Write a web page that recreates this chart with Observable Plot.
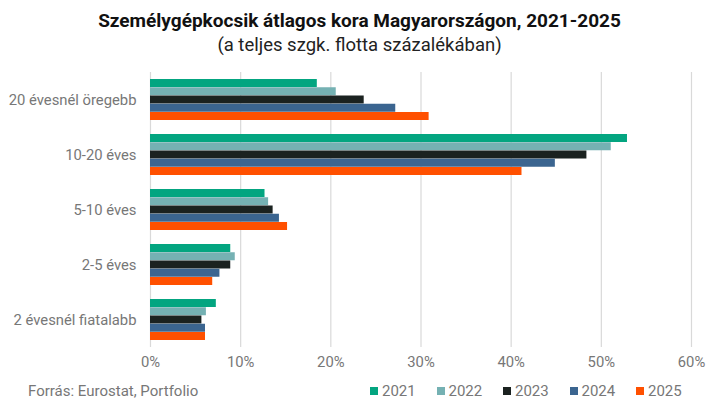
<!DOCTYPE html>
<html>
<head>
<meta charset="utf-8">
<script src="https://cdn.jsdelivr.net/npm/d3@7"></script>
<script src="https://cdn.jsdelivr.net/npm/@observablehq/plot@0.6"></script>
<style>
  html, body { margin: 0; padding: 0; background: #fff; width: 719px; height: 415px; overflow: hidden; font-family: Roboto, "Noto Sans", sans-serif; }
  #title { position: absolute; left: 0; width: 719px; top: 9px; text-align: center; font-weight: 700; font-size: 19px; color: #111; letter-spacing: 0px; line-height: 24px; }
  #subtitle { position: absolute; left: 0; width: 719px; top: 34px; text-align: center; font-size: 18.5px; color: #222; line-height: 22px; }
  #chart { position: absolute; left: 0; top: 60px; }
  #source { position: absolute; left: 28px; top: 382px; font-size: 15px; color: #777; }
  #legend { position: absolute; left: 370px; top: 382px; font-size: 15px; color: #777; display: flex; }
  .item { display: flex; align-items: center; width: 66.5px; }
  .sw { width: 8px; height: 8px; margin-right: 4px; }
</style>
</head>
<body>
<div id="title">Személygépkocsik átlagos kora Magyarországon, 2021-2025</div>
<div id="subtitle">(a teljes szgk. flotta százalékában)</div>
<div id="chart"></div>
<div id="source">Forrás: Eurostat, Portfolio</div>
<div id="legend"></div>
<script>
const categories = ["20 évesnél öregebb", "10-20 éves", "5-10 éves", "2-5 éves", "2 évesnél fiatalabb"];
const years = ["2021", "2022", "2023", "2024", "2025"];
const colors = ["#03a580", "#75b1b3", "#1b2220", "#3b6590", "#ff5000"];
const v2021 = [18.5, 52.9, 12.7, 8.9, 7.3];
const v2022 = [20.6, 51.1, 13.1, 9.4, 6.2];
const v2023 = [23.7, 48.4, 13.6, 8.9, 5.7];
const v2024 = [27.2, 44.9, 14.3, 7.7, 6.1];
const v2025 = [30.9, 41.2, 15.2, 6.9, 6.1];
const xTicks = [0, 10, 20, 30, 40, 50, 60];

const series = [v2021, v2022, v2023, v2024, v2025];
const rows = [];
years.forEach((yr, i) => categories.forEach((c, j) => rows.push({category: c, year: yr, value: series[i][j]})));

const bandStep = 55, bandWidth = bandStep * 0.75, barH = bandWidth / years.length;
const marks = [
  Plot.ruleX(xTicks, {stroke: "#d9d9d9", strokeWidth: 1.2})
];
years.forEach((yr, i) => {
  marks.push(Plot.barX(rows.filter(d => d.year === yr), {
    x: "value", y: "category", fill: colors[i],
    insetTop: i * barH, insetBottom: (years.length - 1 - i) * barH
  }));
});

const chart = Plot.plot({
  width: 719,
  height: 315,
  marginLeft: 150,
  marginRight: 28,
  marginTop: 12,
  marginBottom: 28,
  style: {fontFamily: "Roboto, sans-serif", fontSize: "14.8px", color: "#777", background: "transparent"},
  x: {domain: [0, 60], ticks: xTicks, tickFormat: d => d + "%", tickSize: 0, tickPadding: 9, label: null},
  y: {domain: categories, paddingInner: 0.25, paddingOuter: 0.125, tickSize: 0, tickPadding: 14, label: null},
  marks
});
document.getElementById("chart").appendChild(chart);

const legend = document.getElementById("legend");
years.forEach((yr, i) => {
  const it = document.createElement("div");
  it.className = "item";
  it.innerHTML = `<span class="sw" style="background:${colors[i]}"></span><span>${yr}</span>`;
  legend.appendChild(it);
});
</script>
</body>
</html>
